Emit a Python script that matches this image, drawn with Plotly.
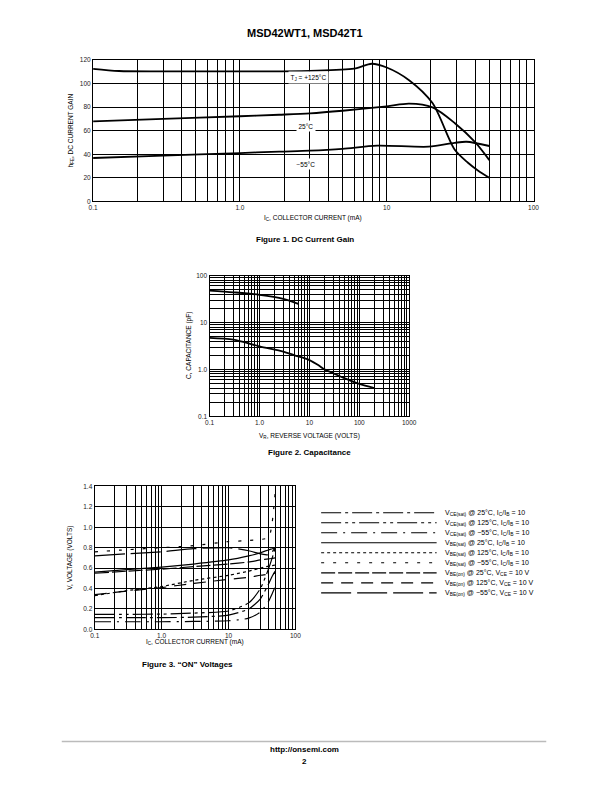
import plotly.graph_objects as go

W, H = 612, 792
FONT = "Liberation Sans"

# ---------------- Figure 1 data: DC current gain ----------------
ic_125 = [0.1, 0.15, 0.3, 1, 3, 6, 7.9, 10, 14.2, 20.5, 29, 35.6, 42, 50]
hfe_125 = [112.7, 110.8, 110.5, 110.5, 111, 112.8, 117, 113.8, 103, 83.5, 44, 33, 26, 20]
ic_25 = [0.1, 0.3, 1, 1.85, 3, 5, 10, 14.2, 20.5, 29, 40, 50]
hfe_25 = [68, 70, 72.3, 73.6, 74.8, 77, 80.7, 83, 79.8, 66.6, 50.3, 35]
ic_m55 = [0.1, 0.3, 1, 1.85, 3, 5, 8.6, 19.3, 29, 35, 50]
hfe_m55 = [36.8, 38.8, 41, 42.2, 43, 44.6, 47.3, 46.4, 49.7, 50.6, 47]

# ---------------- Figure 2 data: capacitance ----------------
vr_ceb = [0.1, 0.3, 1.0, 3, 6]
c_eb = [48, 44, 39, 32, 25]
vr_ccb = [0.1, 0.3, 1.0, 3, 5, 10, 15, 20, 30, 50, 100, 200]
c_cb = [4.7, 4.3, 3.1, 2.4, 2.0, 1.58, 1.24, 1.0, 0.83, 0.65, 0.49, 0.40]

# ---------------- Figure 3 data: "ON" voltages ----------------
ic3 = [0.1, 0.3, 1, 3, 10, 20, 30, 40, 45, 50]
vce_sat_25 = [0.115, 0.115, 0.115, 0.12, 0.14, 0.2, 0.3, 0.45, 0.52, 0.57]
vce_sat_125 = [0.148, 0.148, 0.15, 0.16, 0.18, 0.26, 0.4, 0.6, 0.7, 0.8]
vce_sat_m55 = [0.075, 0.075, 0.075, 0.078, 0.085, 0.11, 0.17, 0.28, 0.35, 0.42]
vbe_sat_25 = [0.56, 0.585, 0.61, 0.64, 0.68, 0.72, 0.75, 0.78, 0.79, 0.80]
vbe_sat_125 = [0.33, 0.38, 0.42, 0.48, 0.53, 0.57, 0.60, 0.62, 0.625, 0.63]
vbe_sat_m55 = [0.76, 0.78, 0.80, 0.82, 0.86, 0.87, 0.88, 0.90, 1.05, 1.35]
vbe_on_25 = [0.55, 0.57, 0.59, 0.615, 0.64, 0.66, 0.68, 0.69, 0.695, 0.70]
vbe_on_125 = [0.34, 0.375, 0.41, 0.45, 0.49, 0.51, 0.53, 0.54, 0.545, 0.55]
vbe_on_m55 = [0.72, 0.74, 0.76, 0.79, 0.80, 0.77, 0.74, 0.73, 0.76, 0.80]

fig3_series = [
    ("V<sub>CE(sat)</sub> @ 25°C, I<sub>C</sub>/I<sub>B</sub> = 10", vce_sat_25, "20px,4px,3px,4px"),
    ("V<sub>CE(sat)</sub> @ 125°C, I<sub>C</sub>/I<sub>B</sub> = 10", vce_sat_125, "20px,4px,3px,4px,3px,4px"),
    ("V<sub>CE(sat)</sub> @ −55°C, I<sub>C</sub>/I<sub>B</sub> = 10", vce_sat_m55, "16px,6px,2px,6px"),
    ("V<sub>BE(sat)</sub> @ 25°C, I<sub>C</sub>/I<sub>B</sub> = 10", vbe_sat_25, "solid"),
    ("V<sub>BE(sat)</sub> @ 125°C, I<sub>C</sub>/I<sub>B</sub> = 10", vbe_sat_125, "3px,3px"),
    ("V<sub>BE(sat)</sub> @ −55°C, I<sub>C</sub>/I<sub>B</sub> = 10", vbe_sat_m55, "3px,9px"),
    ("V<sub>BE(on)</sub> @ 25°C, V<sub>CE</sub> = 10 V", vbe_on_25, "14px,3px"),
    ("V<sub>BE(on)</sub> @ 125°C, V<sub>CE</sub> = 10 V", vbe_on_125, "12px,8px"),
    ("V<sub>BE(on)</sub> @ −55°C, V<sub>CE</sub> = 10 V", vbe_on_m55, "30px,6px"),
]


def px(x):
    return x / W


def py(y):
    return 1 - y / H


fig = go.Figure()

# Figure 1 traces
for xs, ys in [(ic_125, hfe_125), (ic_25, hfe_25), (ic_m55, hfe_m55)]:
    fig.add_trace(go.Scatter(x=xs, y=ys, mode="lines", line=dict(color="black", width=1.8, shape="spline", smoothing=0.8),
                             xaxis="x", yaxis="y", showlegend=False, hoverinfo="skip"))
# Figure 2 traces
for xs, ys in [(vr_ceb, c_eb), (vr_ccb, c_cb)]:
    fig.add_trace(go.Scatter(x=xs, y=ys, mode="lines", line=dict(color="black", width=1.8, shape="spline", smoothing=0.8),
                             xaxis="x2", yaxis="y2", showlegend=False, hoverinfo="skip"))
# Figure 3 traces
for name, ys, dash in fig3_series:
    fig.add_trace(go.Scatter(x=ic3, y=ys, mode="lines", line=dict(color="black", width=1.2, dash=dash, shape="spline", smoothing=0.6),
                             xaxis="x3", yaxis="y3", showlegend=False, hoverinfo="skip"))

grid = dict(showgrid=True, gridcolor="black", gridwidth=1.3, zeroline=False, showline=True, mirror=True,
            linecolor="black", linewidth=1.3, ticks="", tickfont=dict(family=FONT, size=6.5, color="#222"))
minor_log = dict(dtick="D1", showgrid=True, gridcolor="black", gridwidth=1.1, ticks="")

layout = dict(
    width=W, height=H, autosize=False, margin=dict(l=0, r=0, t=0, b=0),
    paper_bgcolor="white", plot_bgcolor="white", font=dict(family=FONT, color="black"),
    # Figure 1
    xaxis=dict(grid, type="log", range=[-1, 2], domain=[px(90), px(540)], anchor="y",
               tickvals=[0.1, 1, 10, 100], ticktext=["0.1", "1.0", "10", "100"], minor=minor_log),
    yaxis=dict(grid, range=[0, 120], domain=[py(199), py(56.7)], anchor="x",
               tickvals=[0, 20, 40, 60, 80, 100, 120]),
    # Figure 2
    xaxis2=dict(grid, type="log", range=[-1, 3], domain=[px(209), px(413)], anchor="y2",
                tickvals=[0.1, 1, 10, 100, 1000], ticktext=["0.1", "1.0", "10", "100", "1000"], minor=minor_log),
    yaxis2=dict(grid, type="log", range=[-1, 2], domain=[py(416), py(274)], anchor="x2",
                tickvals=[0.1, 1, 10, 100], ticktext=["0.1", "1.0", "10", "100"], minor=minor_log),
    # Figure 3
    xaxis3=dict(grid, type="log", range=[-1, 2], domain=[px(91.7), px(296.7)], anchor="y3",
                tickvals=[0.1, 1, 10, 100], ticktext=["0.1", "1.0", "10", "100"], minor=minor_log),
    yaxis3=dict(grid, range=[0, 1.4], domain=[py(631), py(486.7)], anchor="x3",
                tickvals=[0, 0.2, 0.4, 0.6, 0.8, 1.0, 1.2, 1.4],
                ticktext=["0.0", "0.2", "0.4", "0.6", "0.8", "1.0", "1.2", "1.4"]),
)
fig.update_layout(**layout)

ann = []


def text(x, y, s, size=7, bold=False, xanchor="center", angle=0, color="black"):
    ann.append(dict(xref="paper", yref="paper", x=px(x), y=py(y), text=("<b>%s</b>" % s) if bold else s,
                    showarrow=False, xanchor=xanchor, yanchor="middle", textangle=angle,
                    font=dict(family=FONT, size=size, color=color)))


def label(xref, yref, x, y, s):
    ann.append(dict(xref=xref, yref=yref, x=x, y=y, text=s, showarrow=False, bgcolor="white",
                    borderpad=1.5, font=dict(family=FONT, size=6.5, color="black")))


# page text
text(306, 29, "MSD42WT1, MSD42T1", size=11, bold=True)
text(306, 238, "Figure 1. DC Current Gain", size=8, bold=True)
text(311, 453, "Figure 2. Capacitance", size=8, bold=True)
text(186, 666, "Figure 3. “ON” Voltages", size=8, bold=True)
text(306, 752, "http://onsemi.com", size=8, bold=True)
text(306, 764, "2", size=8, bold=True)

# axis titles
text(315, 216, "I<sub>C</sub>, COLLECTOR CURRENT (mA)", size=6.5)
text(67, 128, "h<sub>FE</sub>, DC CURRENT GAIN", size=6.5, angle=-90)
text(311, 436, "V<sub>R</sub>, REVERSE VOLTAGE (VOLTS)", size=6.5)
text(188, 345, "C, CAPACITANCE (pF)", size=6.5, angle=-90)
text(194, 644, "I<sub>C</sub>, COLLECTOR CURRENT (mA)", size=6.5)
text(66, 559, "V, VOLTAGE (VOLTS)", size=6.5, angle=-90)

# in-chart labels
label("x", "y", 0.47, 105.4, "T<sub>J</sub> = +125°C")
label("x", "y", 0.45, 64, "25°C")
label("x", "y", 0.45, 32, "−55°C")
label("x", "y", 71, 111.5, "V<sub>CE</sub> = 10 Vdc")
label("x2", "y2", 19.7, 41, "C<sub>eb</sub> @ 1MHz")
label("x2", "y2", 5.6, 0.82, "C<sub>cb</sub> @ 1MHz")

# Figure 3 legend (line samples + text)
shapes = []
row_y = [513.3, 523.4, 533.5, 543.6, 553.7, 563.8, 573.9, 584.0, 594.1]
for (name, _, dash), yy in zip(fig3_series, row_y):
    shapes.append(dict(type="line", xref="paper", yref="paper", x0=px(323), x1=px(441), y0=py(yy), y1=py(yy),
                       line=dict(color="black", width=1.1, dash=dash)))
    text(448, yy, name, size=7, xanchor="left")

# footer rule
shapes.append(dict(type="line", xref="paper", yref="paper", x0=px(58), x1=px(553), y0=py(744), y1=py(744),
                   line=dict(color="#bbbbbb", width=1.5)))

fig.update_layout(annotations=ann, shapes=shapes)
fig.write_html("out.html")
